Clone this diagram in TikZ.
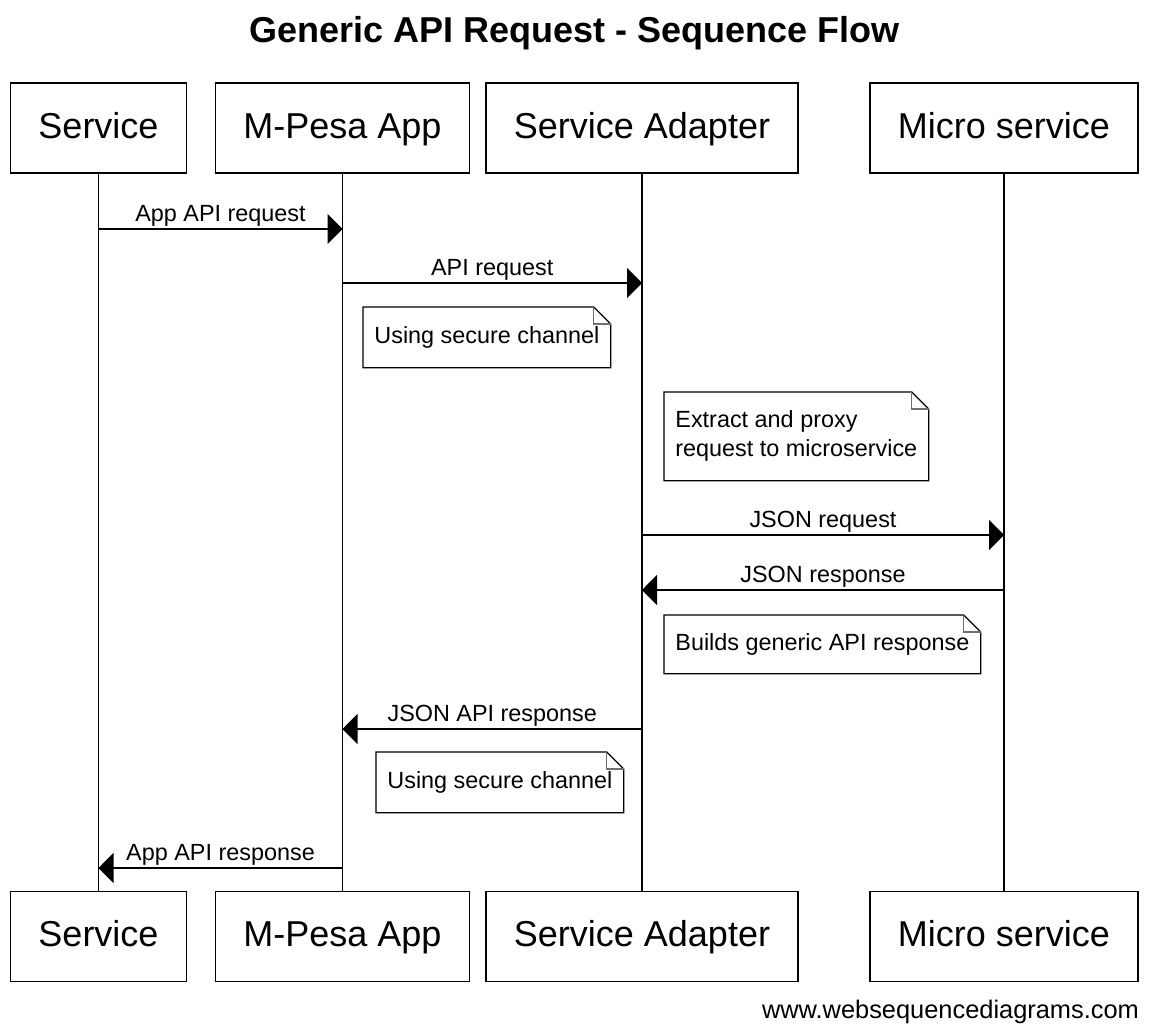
\documentclass[tikz,border=0pt]{standalone}
\usepackage{fontspec}
\setmainfont{Liberation Sans}
\usetikzlibrary{arrows.meta,positioning,calc}
\definecolor{foldgray}{RGB}{110,110,110}
\tikzset{actor/.style={draw,line width=0.9pt,font=\fontsize{18}{21}\selectfont,inner xsep=14pt,inner ysep=0pt,minimum height=45pt,text height=12pt,text depth=2pt},note/.style={anchor=north west,align=left,font=\fontsize{11.7}{14.5}\selectfont,inner xsep=5.5pt,inner ysep=8pt,minimum height=30pt},notebox/.style={line width=0.6pt},msg/.style={-{Triangle[length=7.5pt,width=15pt]},line width=0.6pt},msglabel/.style={above,inner sep=1pt,font=\fontsize{11.7}{14}\selectfont},lifeline/.style={line width=0.6pt}}

\begin{document}
\begin{tikzpicture}[x=0.5pt,y=-0.5pt]
\useasboundingbox (0,0) rectangle (1150,1028);
\node[font=\fontsize{18}{21}\selectfont\bfseries,anchor=base] (title) at (574.5,42) {Generic API Request - Sequence Flow};
\node[actor] (service) at (98.5,128) {Service};
\node[actor] (mpesa) at (342.5,128) {M-Pesa App};
\node[actor] (adapter) at (642,128) {Service Adapter};
\node[actor] (micro) at (1004,128) {Micro service};
\node[actor] (serviceend) at (98.5,936.5) {Service};
\node[actor] (mpesaend) at (342.5,936.5) {M-Pesa App};
\node[actor] (adapterend) at (642,936.5) {Service Adapter};
\node[actor] (microend) at (1004,936.5) {Micro service};
\draw[lifeline] (service)--(serviceend);
\draw[lifeline] (mpesa)--(mpesaend);
\draw[lifeline] (adapter)--(adapterend);
\draw[lifeline] (micro)--(microend);
\node[note] (secure1) at (363,307) {Using secure channel};
\node[note,minimum height=44pt] (proxy) at (664,392) {Extract and proxy\\request to microservice};
\node[note,minimum height=29pt] (builds) at (664,615) {Builds generic API response};
\node[note] (secure2) at (376,752) {Using secure channel};
\foreach \n in {secure1,proxy,builds,secure2}{
\draw[notebox] (\n.north west)--([xshift=-8.5pt]\n.north east)--([yshift=-8.5pt]\n.north east)--(\n.south east)--(\n.south west)--cycle;
\draw[notebox,foldgray] ([xshift=-8.5pt]\n.north east)|-([yshift=-8.5pt]\n.north east);
}
\draw[msg] (service |- 0,229)--node[msglabel]{App API request}(mpesa |- 0,229);
\draw[msg] (mpesa |- 0,283)--node[msglabel]{API request}(adapter |- 0,283);
\draw[msg] (adapter |- 0,535)--node[msglabel]{JSON request}(micro |- 0,535);
\draw[msg] (micro |- 0,590)--node[msglabel]{JSON response}(adapter |- 0,590);
\draw[msg] (adapter |- 0,729)--node[msglabel]{JSON API response}(mpesa |- 0,729);
\draw[msg] (mpesa |- 0,868)--node[msglabel]{App API response}(service |- 0,868);
\node[font=\fontsize{12.7}{15}\selectfont,anchor=base east] (credit) at (1146,1018) {www.websequencediagrams.com};
\end{tikzpicture}
\end{document}
